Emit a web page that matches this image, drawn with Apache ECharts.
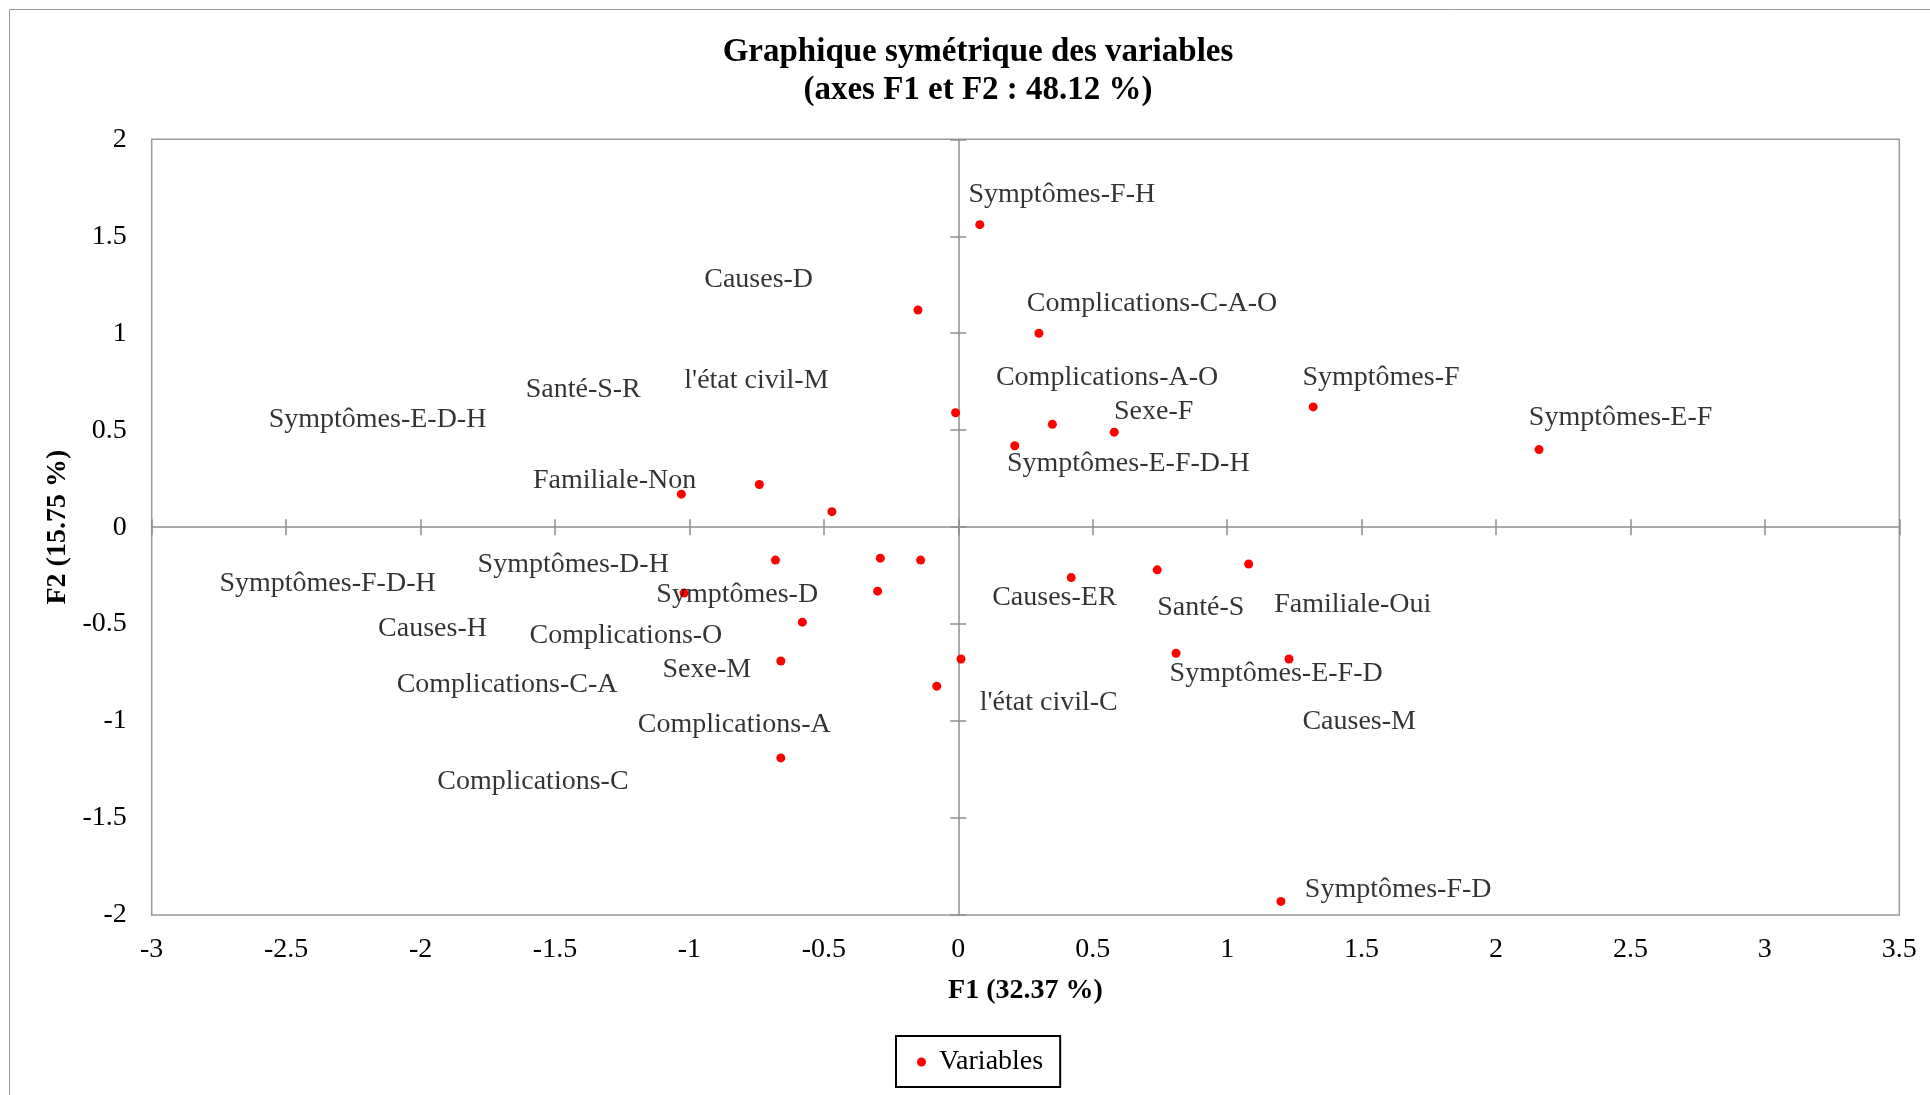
<!DOCTYPE html>
<html>
<head>
<meta charset="utf-8">
<script src="https://cdn.jsdelivr.net/npm/echarts@6/dist/echarts.min.js"></script>
<style>
  html, body { margin: 0; padding: 0; background: #ffffff; }
  #chart { width: 1930px; height: 1095px; }
</style>
</head>
<body>
<div id="chart"></div>
<script>
// ---- Data ----
const pointF1 = [0.08, -0.15, 0.30, -0.01, 0.35, 0.58, 0.21, 1.32, 2.16, -0.74, -1.03, -0.47, -0.68, -0.29, -0.14, -1.02, -0.30, -0.58, -0.66, 0.01, -0.08, -0.66, 0.42, 0.74, 1.08, 0.81, 1.23, 1.20];
const pointF2 = [1.56, 1.12, 1.00, 0.59, 0.53, 0.49, 0.42, 0.62, 0.40, 0.22, 0.17, 0.08, -0.17, -0.16, -0.17, -0.34, -0.33, -0.49, -0.69, -0.68, -0.82, -1.19, -0.26, -0.22, -0.19, -0.65, -0.68, -1.93];

const labelNames = ['Symptômes-F-H', 'Causes-D', 'Complications-C-A-O', 'Complications-A-O', 'Sexe-F', 'Symptômes-F', 'Symptômes-E-F', 'Santé-S-R', "l'état civil-M", 'Symptômes-E-D-H', 'Symptômes-E-F-D-H', 'Familiale-Non', 'Symptômes-D-H', 'Symptômes-F-D-H', 'Symptômes-D', 'Causes-H', 'Complications-O', 'Complications-C-A', 'Sexe-M', 'Complications-A', 'Complications-C', 'Causes-ER', 'Santé-S', 'Familiale-Oui', 'Symptômes-E-F-D', "l'état civil-C", 'Causes-M', 'Symptômes-F-D'];
const labelF1 = [0.038, -0.945, 0.255, 0.140, 0.579, 1.280, 2.122, -1.609, -1.019, -2.565, 0.181, -1.582, -1.788, -2.748, -1.123, -2.158, -1.595, -2.089, -1.100, -1.192, -1.938, 0.126, 0.740, 1.175, 0.786, 0.080, 1.280, 1.289];
const labelF2 = [1.726, 1.288, 1.167, 0.785, 0.607, 0.785, 0.576, 0.722, 0.766, 0.569, 0.340, 0.251, -0.181, -0.277, -0.334, -0.512, -0.544, -0.798, -0.722, -1.008, -1.300, -0.353, -0.404, -0.385, -0.741, -0.894, -0.989, -1.854];

const xTicks = { min: -3, max: 3.5, interval: 0.5 };
const yTicks = { min: -2, max: 2, interval: 0.5 };

const titleText = 'Graphique symétrique des variables\n(axes F1 et F2 : 48.12 %)';
const xName = 'F1 (32.37 %)';
const yName = 'F2 (15.75 %)';
const seriesName = 'Variables';

// ---- Build chart ----
const FONT = '"Liberation Serif", "Times New Roman", serif';
const AXIS_GRAY = '#8f8f8f';

const points = pointF1.map((x, i) => [x, pointF2[i]]);
const labels = labelF1.map((x, i) => ({ name: labelNames[i], value: [x, labelF2[i]] }));

function zeroX(position) {
  return {
    type: 'value', min: xTicks.min, max: xTicks.max, interval: xTicks.interval,
    position: position,
    axisLine: { show: position === 'bottom', onZero: true, lineStyle: { color: AXIS_GRAY, width: 1.5 } },
    axisTick: { show: true, length: 8, lineStyle: { color: AXIS_GRAY, width: 1.5 } },
    axisLabel: { show: false },
    splitLine: { show: false }
  };
}
function zeroY(position) {
  return {
    type: 'value', min: yTicks.min, max: yTicks.max, interval: yTicks.interval,
    position: position,
    axisLine: { show: position === 'left', onZero: true, lineStyle: { color: AXIS_GRAY, width: 1.5 } },
    axisTick: { show: true, length: 8, lineStyle: { color: AXIS_GRAY, width: 1.5 } },
    axisLabel: { show: false },
    splitLine: { show: false }
  };
}

const chart = echarts.init(document.getElementById('chart'), null, { renderer: 'canvas' });
chart.setOption({
  animation: false,
  backgroundColor: '#ffffff',
  textStyle: { fontFamily: FONT },
  title: {
    text: titleText,
    left: 978, top: 33.5, textAlign: 'center', padding: 0,
    textStyle: { fontFamily: FONT, fontSize: 33, fontWeight: 'bold', color: '#000', lineHeight: 38 }
  },
  graphic: [{
    type: 'rect', silent: true, z: -10,
    shape: { x: 9.5, y: 9.5, width: 2000, height: 2000 },
    style: { fill: 'none', stroke: '#9a9a9a', lineWidth: 1 }
  }],
  legend: {
    data: [seriesName],
    left: 896, top: 1036,
    orient: 'horizontal',
    padding: [9, 17, 8, 21],
    itemWidth: 25, itemHeight: 9,
    icon: 'circle',
    borderColor: '#000', borderWidth: 2, borderRadius: 0,
    textStyle: { fontFamily: FONT, fontSize: 28, color: '#000', lineHeight: 31, padding: [3, 0, 0, 0] }
  },
  grid: {
    left: 151.7, top: 139.3, width: 1747.6, height: 775.7,
    show: true, borderColor: '#999999', borderWidth: 1.5, backgroundColor: 'transparent',
    containLabel: false
  },
  xAxis: [
    {
      type: 'value', min: xTicks.min, max: xTicks.max, interval: xTicks.interval,
      position: 'bottom',
      axisLine: { show: false, onZero: false },
      axisTick: { show: false },
      splitLine: { show: false },
      axisLabel: { show: true, margin: 21, fontFamily: FONT, fontSize: 28, color: '#000' },
      name: xName, nameLocation: 'middle', nameGap: 61.5,
      nameTextStyle: { fontFamily: FONT, fontSize: 28, fontWeight: 'bold', color: '#000' }
    },
    zeroX('bottom'),
    zeroX('top')
  ],
  yAxis: [
    {
      type: 'value', min: yTicks.min, max: yTicks.max, interval: yTicks.interval,
      position: 'left',
      axisLine: { show: false, onZero: false },
      axisTick: { show: false },
      splitLine: { show: false },
      axisLabel: { show: true, margin: 25, fontFamily: FONT, fontSize: 28, color: '#000', lineHeight: 28, padding: [6, 0, 0, 0] },
      name: yName, nameLocation: 'middle', nameGap: 74, nameRotate: 90,
      nameTextStyle: { fontFamily: FONT, fontSize: 28, fontWeight: 'bold', color: '#000' }
    },
    zeroY('left'),
    zeroY('right')
  ],
  series: [
    {
      name: seriesName,
      type: 'scatter',
      xAxisIndex: 0, yAxisIndex: 0,
      symbol: 'circle', symbolSize: 9,
      itemStyle: { color: '#ff0000', opacity: 1 },
      emphasis: { disabled: true },
      data: points,
      z: 3
    },
    {
      name: 'labels',
      type: 'scatter',
      xAxisIndex: 0, yAxisIndex: 0,
      symbol: 'circle', symbolSize: 0,
      itemStyle: { color: 'rgba(0,0,0,0)' },
      silent: true,
      emphasis: { disabled: true },
      label: {
        show: true, position: 'right', distance: 0, offset: [0, 2.5],
        formatter: p => p.name,
        fontFamily: FONT, fontSize: 28, color: '#000'
      },
      data: labels,
      z: 4
    }
  ]
});
</script>
</body>
</html>
